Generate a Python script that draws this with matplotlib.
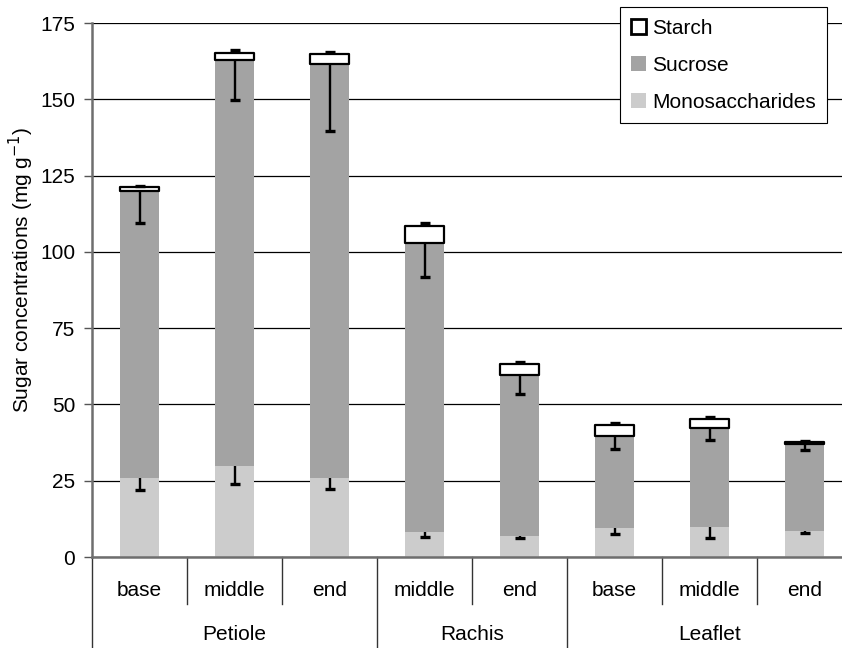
import matplotlib.pyplot as plt
import numpy as np

plt.rcParams['font.family'] = ['Liberation Sans', 'DejaVu Sans']

parts = ["base", "middle", "end", "middle", "end", "base", "middle", "end"]
organs = ["Petiole", "Rachis", "Leaflet"]
organ_sizes = [3, 2, 3]

mono = [26.0, 29.8, 26.0, 8.1, 6.9, 9.6, 9.8, 8.5]
mono_err = [4.0, 6.0, 3.7, 1.4, 0.8, 2.1, 3.6, 0.5]
sucrose = [93.8, 133.2, 135.6, 94.8, 52.9, 30.2, 32.6, 28.4]
sucrose_err = [10.4, 13.3, 21.9, 11.2, 6.3, 4.3, 4.2, 1.8]
starch = [1.4, 2.3, 3.3, 5.7, 3.3, 3.5, 2.8, 0.8]
starch_err = [0.4, 0.9, 0.7, 1.0, 0.8, 0.6, 0.8, 0.3]

FS = 15

fig = plt.figure(figsize=(8.42, 6.48), dpi=100)
ax = fig.add_axes([0.1093, 0.1404, 0.9026, 0.8241])

x = np.arange(len(parts))
mono = np.array(mono)
sucrose = np.array(sucrose)
starch = np.array(starch)
w = 0.41

ax.bar(x, mono, w, color="#cccccc", label="Monosaccharides", zorder=2)
ax.bar(x, sucrose, w, bottom=mono, color="#a3a3a3", label="Sucrose", zorder=2)
ax.bar(x, starch, w, bottom=mono + sucrose, facecolor="white", edgecolor="black",
       linewidth=1.6, joinstyle="round", label="Starch", zorder=3)


def one_sided(y, err, up=False):
    # error line from the segment top with a single cap at the far end
    end = y + np.array(err) if up else y - np.array(err)
    ax.vlines(x, y, end, color="black", linewidth=1.7, zorder=4)
    ax.plot(x, end, "_", color="black", markersize=7, mew=2.4, zorder=4)


one_sided(mono, mono_err)
one_sided(mono + sucrose, sucrose_err)
one_sided(mono + sucrose + starch, starch_err, up=True)

ax.set_xlim(-0.5, len(parts) - 0.5)
ax.set_ylim(0, 175)
ax.set_yticks(np.arange(0, 176, 25))
ax.yaxis.grid(True, color="black", linewidth=0.9)
ax.set_axisbelow(True)
ax.tick_params(axis="y", labelsize=FS, length=6, width=1, color="#555555", direction="out", pad=6)
ax.tick_params(axis="x", bottom=False, labelbottom=False)
ax.set_ylabel("Sugar concentrations (mg g$^{-1}$)", fontsize=FS)
ax.yaxis.set_label_coords(-0.074, 0.537)

for side in ["top", "right"]:
    ax.spines[side].set_visible(False)
ax.spines["left"].set_color("#6e6e6e")
ax.spines["left"].set_linewidth(1.8)
ax.spines["bottom"].set_color("#6e6e6e")
ax.spines["bottom"].set_linewidth(1.8)

# category axis below the plot: short ticks between parts, long ones between organs
trans = ax.get_xaxis_transform()
for i, p in enumerate(parts):
    ax.text(i, -0.062, p, transform=trans, ha="center", va="center", fontsize=FS)
bounds = np.cumsum([0] + organ_sizes) - 0.5
for b in np.arange(-0.5, len(parts), 1.0):
    low = -0.18 if b in bounds else -0.088
    ax.plot([b, b], [0, low], transform=trans, color="#333333", linewidth=1, clip_on=False)
for k, name in enumerate(organs):
    c = (bounds[k] + bounds[k + 1]) / 2
    ax.text(c, -0.146, name, transform=trans, ha="center", va="center", fontsize=FS)

h, l = ax.get_legend_handles_labels()
leg = ax.legend(h[::-1], l[::-1], loc="upper left", bbox_to_anchor=(0.736, 0.989),
                bbox_transform=fig.transFigure, fontsize=FS, frameon=True, fancybox=False,
                edgecolor="black", framealpha=1, labelspacing=0.87, handlelength=0.7,
                handleheight=0.7, handletextpad=0.3, borderpad=0.55, borderaxespad=0)
leg.get_frame().set_linewidth(0.8)
leg.legend_handles[0].set_linewidth(2)

fig.savefig("out.png", dpi=100)
